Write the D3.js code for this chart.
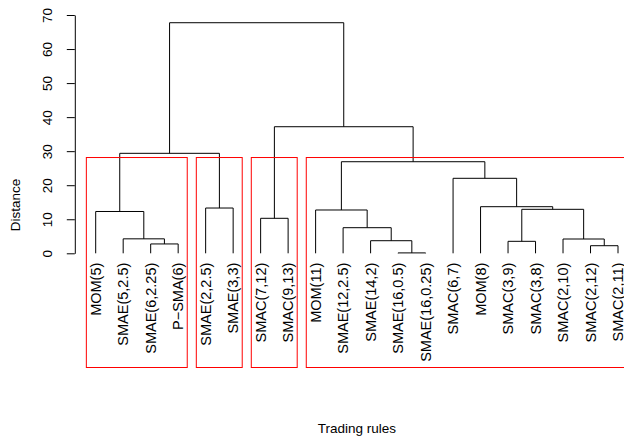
<!DOCTYPE html>
<html>
<head>
<meta charset="utf-8">
<script src="https://cdn.jsdelivr.net/npm/d3@7"></script>
<style>
  html, body { margin: 0; padding: 0; background: #fff; }
  svg { display: block; font-family: "Liberation Sans", Arial, Helvetica, sans-serif; }
</style>
</head>
<body>
<svg id="chart" width="624" height="441"></svg>
<script>
// Leaves in dendrogram order (left to right)
const leafLabels = [
  "MOM(5)", "SMAE(5,2.5)", "SMAE(6,2.25)", "P\u2212SMA(6)",
  "SMAE(2,2.5)", "SMAE(3,3)",
  "SMAC(7,12)", "SMAC(9,13)",
  "MOM(11)", "SMAE(12,2.5)", "SMAE(14,2)", "SMAE(16,0.5)", "SMAE(16,0.25)",
  "SMAC(6,7)", "MOM(8)", "SMAC(3,9)", "SMAC(3,8)", "SMAC(2,10)", "SMAC(2,12)", "SMAC(2,11)"
];

// Merge table in hclust style: negative = leaf (1-based), positive = earlier merge step
const mergeLeft  = [-12, -19, -3, -16, -11, -18, -2, -10, -7, -1, -9,  4,  -5, -15, -14, 11, 10,  9, 17];
const mergeRight = [-13, -20, -4, -17,   1,   2,  3,   5, -8,  7,  8,  6,  -6,  12,  14, 15, 13, 16, 18];
const mergeHeight = [0.12, 2.23, 2.75, 3.52, 3.7, 4.2, 4.25, 7.52, 10.28, 12.28, 12.72, 12.92,
                     13.3, 13.69, 22.03, 26.9, 29.37, 37.18, 67.73];

const yTicks = [0, 10, 20, 30, 40, 50, 60, 70];
const nClusters = 4;

const xTitle = "Trading rules";
const yTitle = "Distance";

// Layout
const W = 624, H = 441;
const n = leafLabels.length;
const pad = 0.04 * (n - 1);
const plotLeft = 74.8, plotRight = 638.9;
const plotBottom = 367.5;

const svg = d3.select("#chart");

const x = d3.scaleLinear().domain([1 - pad, n + pad]).range([plotLeft, plotRight]);
const y = d3.scaleLinear().domain([0, 70]).range([253.3, 15]);

// Node positions: leaves at integer slots, merges at midpoint of children
const mergeX = [];
function childX(c) { return c < 0 ? -c : mergeX[c - 1]; }
function childH(c) { return c < 0 ? 0 : mergeHeight[c - 1]; }
for (let i = 0; i < mergeHeight.length; i++) {
  mergeX.push((childX(mergeLeft[i]) + childX(mergeRight[i])) / 2);
}

// Dendrogram segments
const g = svg.append("g")
  .attr("fill", "none")
  .attr("stroke", "#000")
  .attr("stroke-width", 1);

mergeHeight.forEach((h, i) => {
  const xl = childX(mergeLeft[i]), xr = childX(mergeRight[i]);
  const hl = childH(mergeLeft[i]), hr = childH(mergeRight[i]);
  const p = d3.path();
  p.moveTo(x(xl), y(hl));
  p.lineTo(x(xl), y(h));
  p.lineTo(x(xr), y(h));
  p.lineTo(x(xr), y(hr));
  g.append("path").attr("d", p.toString());
});

// Leaf labels, vertical
svg.append("g")
  .attr("font-size", 14.5)
  .attr("fill", "#000")
  .selectAll("text")
  .data(leafLabels)
  .join("text")
  .attr("transform", (d, i) => `translate(${x(i + 1)},${y(0) + 9.4}) rotate(-90)`)
  .attr("text-anchor", "end")
  .attr("dy", "0.35em")
  .text(d => d);

// Cluster rectangles: cut between the (k-1)th and kth highest merges
const sortedH = mergeHeight.slice().sort((a, b) => b - a);
const cutH = (sortedH[nClusters - 2] + sortedH[nClusters - 1]) / 2;
function leavesOf(c) {
  if (c < 0) return [-c];
  return leavesOf(mergeLeft[c - 1]).concat(leavesOf(mergeRight[c - 1]));
}
const clusters = [];
function collect(c) {
  if (childH(c) < cutH) { clusters.push(leavesOf(c)); return; }
  collect(mergeLeft[c - 1]);
  collect(mergeRight[c - 1]);
}
collect(mergeHeight.length);

svg.append("g")
  .attr("fill", "none")
  .attr("stroke", "#ff0000")
  .attr("stroke-width", 1)
  .selectAll("rect")
  .data(clusters)
  .join("rect")
  .attr("x", d => x(d3.min(d) - 0.34))
  .attr("y", y(cutH))
  .attr("width", d => x(d3.max(d) + 0.33) - x(d3.min(d) - 0.34))
  .attr("height", plotBottom - y(cutH));

// Y axis
const yAxis = svg.append("g")
  .attr("transform", `translate(${plotLeft},0)`)
  .call(d3.axisLeft(y).tickValues(yTicks).tickSize(8).tickSizeOuter(0).tickPadding(0));
yAxis.select(".domain").attr("stroke", "#000");
yAxis.selectAll(".tick line").attr("stroke", "#000");
yAxis.selectAll(".tick text")
  .attr("font-family", "'Liberation Sans', Arial, Helvetica, sans-serif")
  .attr("font-size", 13.5)
  .attr("fill", "#000")
  .attr("text-anchor", "middle")
  .attr("x", 0).attr("dy", 0)
  .attr("transform", "translate(-26.5,0) rotate(-90)")
  .attr("dominant-baseline", "middle");

// Axis titles
svg.append("text")
  .attr("x", (plotLeft + plotRight) / 2)
  .attr("y", 433)
  .attr("text-anchor", "middle")
  .attr("font-size", 13.5)
  .text(xTitle);

svg.append("text")
  .attr("transform", "translate(15,205) rotate(-90)")
  .attr("text-anchor", "middle")
  .attr("dy", "0.35em")
  .attr("font-size", 13.5)
  .text(yTitle);
</script>
</body>
</html>
